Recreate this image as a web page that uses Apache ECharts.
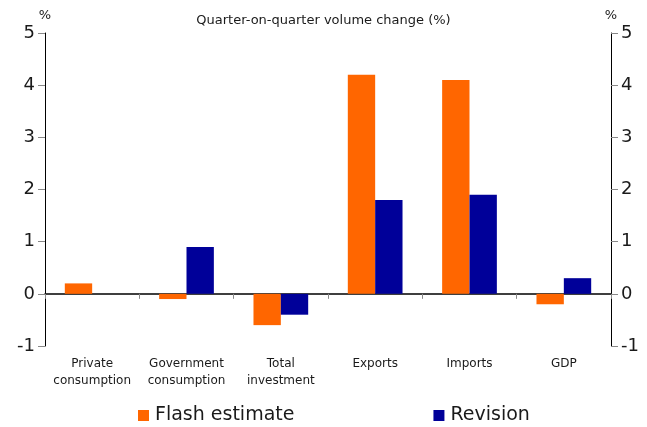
<!DOCTYPE html>
<html><head><meta charset="utf-8">
<script src="https://cdn.jsdelivr.net/npm/echarts@6/dist/echarts.min.js"></script>
<style>html,body{margin:0;padding:0;background:#fff}#c{width:647px;height:427px}</style>
</head><body><div id="c"></div>
<script>
const categories = ["Private\nconsumption", "Government\nconsumption", "Total\ninvestment", "Exports", "Imports", "GDP"];
const flashEstimate = [0.2, -0.1, -0.6, 4.2, 4.1, -0.2];
const revision = [0.0, 0.9, -0.4, 1.8, 1.9, 0.3];
const yTicks = [-1, 0, 1, 2, 3, 4, 5];

const font = "DejaVu Sans, Verdana, sans-serif";
const txt = '#1a1a1a';
const chart = echarts.init(document.getElementById('c'), null, {renderer: 'canvas'});
const yAxisBase = {
  type: 'value', min: yTicks[0], max: yTicks[yTicks.length - 1], interval: 1,
  name: '%', nameLocation: 'end', nameGap: 11,
  nameTextStyle: {fontFamily: font, fontSize: 13, color: txt},
  axisLine: {show: true, lineStyle: {color: '#000', width: 1}},
  axisTick: {show: true, length: 7, lineStyle: {color: '#888'}},
  axisLabel: {fontFamily: font, fontSize: 18, color: txt, margin: 10},
  splitLine: {show: false}
};
chart.setOption({
  animation: false,
  title: {text: 'Quarter-on-quarter volume change (%)', left: 'center', top: 9,
    textStyle: {fontFamily: font, fontSize: 13, fontWeight: 'normal', color: txt}},
  grid: {left: 45, right: 36, top: 33, bottom: 81, containLabel: false},
  legend: {top: 406, left: 138, padding: 0, itemGap: 139, itemWidth: 11, itemHeight: 11,
    icon: 'rect', textStyle: {fontFamily: font, fontSize: 19, color: txt, padding: [0, 0, 0, 1]},
    data: ['Flash estimate', 'Revision']},
  xAxis: [
    {type: 'category', data: categories, position: 'bottom',
      axisLine: {show: false, onZero: false}, axisTick: {show: false},
      axisLabel: {fontFamily: font, fontSize: 12, color: txt, margin: 9, lineHeight: 17, interval: 0}},
    {type: 'category', data: categories, position: 'bottom', gridIndex: 0,
      axisLine: {show: true, onZero: true, lineStyle: {color: '#000', width: 1.5}},
      axisTick: {show: true, length: 5, inside: false, lineStyle: {color: '#888'}},
      axisLabel: {show: false}}
  ],
  yAxis: [
    Object.assign({}, yAxisBase, {position: 'left'}),
    Object.assign({}, yAxisBase, {position: 'right'})
  ],
  series: [
    {name: 'Flash estimate', type: 'bar', data: flashEstimate, xAxisIndex: 0, yAxisIndex: 0,
      barWidth: '29%', barGap: '0%', itemStyle: {color: '#FF6600'}},
    {name: 'Revision', type: 'bar', data: revision, xAxisIndex: 0, yAxisIndex: 0,
      barWidth: '29%', barGap: '0%', itemStyle: {color: '#000099'}}
  ]
});
</script></body></html>
